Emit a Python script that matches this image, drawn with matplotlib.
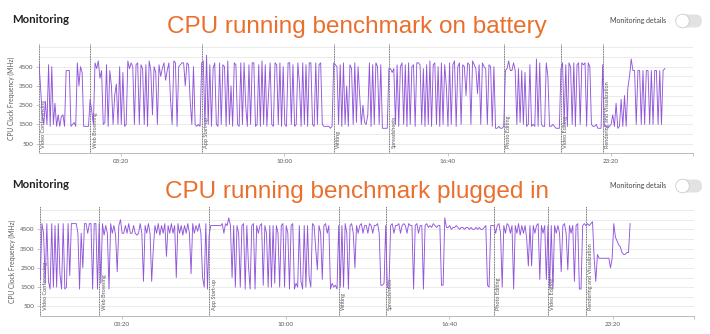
import numpy as np
import matplotlib
matplotlib.use('Agg')
import matplotlib.pyplot as plt
from matplotlib.patches import FancyBboxPatch, Circle

# benchmark phases, same order in both runs
phases = ['Video Conferencing', 'Web Browsing', 'App Start-up', 'Writing',
          'Spreadsheets', 'Photo Editing', 'Video Editing',
          'Rendering and Visualization']

# phase start times (s), last entry = end of recording
batt_bounds = [0, 125, 398, 721, 856, 1137, 1277, 1379, 1531]
plug_bounds = [0, 144, 413, 730, 845, 1110, 1242, 1335, 1443]

# CPU clock per phase, in 100 MHz units
batt_vc = [47, 34, 20, 15, 27, 15, 46, 14, 45, 15, 26, 14, 20, 14, 19, 20, 14, 43, 43, 43,
           14, 15, 16, 14, 47, 35, 45, 42, 14, 14, 14, 14]
batt_web = [28, 22, 15, 47, 44, 48, 39, 43, 15, 16, 46, 14, 43, 35, 15, 30, 36, 15, 45, 15,
            42, 14, 15, 48, 44, 47, 45, 15, 46, 47, 15, 46, 44, 15, 46, 14, 48, 43, 20, 45,
            42, 15, 46, 40, 44, 47, 38, 43, 47, 28, 15, 48, 47, 14, 45, 46, 47, 47, 35, 47,
            46, 27, 15, 45, 15, 14, 15, 14]
batt_app = [47, 48, 14, 51, 15, 46, 14, 44, 47, 15, 14, 47, 15, 46, 45, 14, 48, 15, 35, 14,
            47, 46, 15, 14, 47, 15, 47, 25, 14, 46, 15, 47, 47, 14, 15, 46, 14, 48, 15, 46,
            14, 30, 47, 15, 14, 47, 46, 15, 47, 14, 45, 15, 14, 47, 47, 15, 46, 14, 15, 47,
            36, 14, 47, 15, 46, 14, 47, 47, 15, 14, 47, 15, 46, 47, 15, 14, 14, 14, 14, 13, 14]
batt_write = [47, 46, 45, 15, 46, 14, 47, 15, 35, 14, 46, 44, 15, 47, 16, 45, 30, 15, 25, 16,
              15, 20, 47, 14, 46, 15, 47, 45, 15, 46, 13, 13, 13, 13]
batt_sheet = [44, 44, 42, 44, 15, 46, 14, 45, 47, 15, 46, 14, 47, 15, 45, 46, 14, 47, 47, 46,
              15, 44, 14, 46, 15, 48, 14, 46, 47, 15, 45, 14, 47, 15, 46, 35, 14, 47, 15, 46,
              48, 14, 45, 47, 15, 46, 45, 30, 47, 46, 15, 48, 46, 44, 31, 46, 15, 47, 45, 44,
              15, 46, 45, 14, 45, 13, 13, 14, 13, 13]
batt_photo = [14, 43, 44, 48, 43, 43, 47, 43, 15, 44, 16, 43, 15, 42, 14, 15, 46, 14, 15, 14,
              49, 14, 47, 15, 14, 14, 47, 40, 14, 14, 15, 14, 13, 13, 13]
batt_video = [44, 47, 15, 46, 14, 47, 45, 15, 47, 14, 46, 47, 15, 47, 46, 47, 14, 47, 45, 15,
              14, 14, 15, 13, 13, 13]
batt_render = [46, 14, 14, 13, 14, 15, 20, 14, 26, 13, 14, 28, 14, 30, 14, 34, 40, 49, 43, 43,
               15, 43, 43, 15, 43, 15, 43, 43, 15, 43, 15, 43, 43, 15, 43, 15, 43, 44]

plug_vc = [19, 48, 43, 17, 48, 18, 14, 48, 15, 47, 15, 48, 22, 14, 48, 14, 15, 48, 21, 48,
           48, 48, 48, 43, 14, 43, 25, 48, 48, 43, 48, 48, 14, 48, 48, 14]
plug_web = [48, 17, 48, 42, 47, 43, 14, 48, 43, 47, 42, 23, 47, 50, 43, 43, 47, 43, 48, 43,
            43, 47, 43, 42, 43, 48, 43, 18, 47, 43, 48, 43, 18, 35, 47, 43, 48, 42, 47, 43,
            48, 31, 47, 43, 48, 43, 47, 20, 48, 43, 47, 42, 47, 43, 48, 43, 22, 48, 43, 47,
            44, 48, 43, 20, 15, 48, 14]
plug_app = [42, 47, 47, 47, 47, 47, 47, 47, 48, 43, 48, 47, 51, 47, 20, 47, 15, 47, 43, 15,
            47, 48, 14, 47, 26, 14, 47, 48, 14, 47, 43, 47, 48, 16, 47, 43, 15, 47, 15, 47,
            17, 47, 43, 15, 47, 48, 15, 47, 43, 14, 47, 48, 14, 17, 15, 47, 18, 14, 47, 15,
            47, 20, 15, 48, 47, 35, 24, 47, 43, 19, 47, 48, 43, 47, 14, 17, 15, 16, 14]
plug_write = [47, 15, 47, 15, 48, 43, 14, 47, 48, 43, 25, 47, 43, 47, 48, 43, 47, 47, 43, 48,
              47, 43, 47, 47, 48, 43, 16, 16, 17]
plug_sheet = [47, 15, 14, 47, 48, 43, 47, 47, 48, 43, 47, 48, 47, 43, 48, 47, 47, 14, 47, 48,
              43, 47, 47, 14, 47, 48, 46, 47, 46, 48, 47, 46, 47, 47, 16, 16, 51, 46, 46, 47,
              45, 46, 46, 47, 46, 45, 46, 46, 45, 46, 46, 45, 46, 45, 45, 46, 45, 46, 45, 45,
              46, 47, 16, 15, 47, 47]
plug_photo = [47, 43, 47, 48, 43, 15, 47, 43, 48, 47, 43, 47, 14, 47, 43, 48, 42, 47, 43, 47,
              40, 26, 47, 26, 47, 43, 47, 48, 19, 47, 43, 47, 19]
plug_video = [47, 15, 47, 14, 47, 43, 47, 43, 23, 47, 48, 43, 24, 47, 43, 47, 18, 47, 48, 14,
              14, 47, 48]
plug_render = [47, 48, 47, 48, 49, 30, 18, 32, 30, 30, 30, 30, 30, 30, 30, 25, 30, 48, 41, 39,
               37, 36, 33, 32, 32, 33, 33, 48]

batt_segs = [batt_vc, batt_web, batt_app, batt_write, batt_sheet, batt_photo, batt_video, batt_render]
plug_segs = [plug_vc, plug_web, plug_app, plug_write, plug_sheet, plug_photo, plug_video, plug_render]

xtick_pos = [200, 600, 1000, 1400]
xtick_lab = ['03:20', '10:00', '16:40', '23:20']
ytick_pos = [500, 1500, 2500, 3500, 4500]

LINE = '#9156DA'
ORANGE = '#EB6F2C'
GREY = '#5a5a5a'


def build(bounds, segs):
    t, f = [], []
    for i, s in enumerate(segs):
        last = (i == len(segs) - 1)
        t.append(np.linspace(bounds[i], bounds[i + 1], len(s), endpoint=last))
        f.append(np.array(s) * 100)
    return np.concatenate(t), np.concatenate(f)


def panel(ax, bounds, segs):
    t, f = build(bounds, segs)
    ax.set_xlim(0, 1600)
    ax.set_ylim(0, 5700)
    for y in range(500, 5600, 500):
        ax.axhline(y, color='#e8e8e8', lw=0.6, zorder=0)
    for b, name in zip(bounds[:-1], phases):
        ax.axvline(b, color='#555555', lw=0.6, ls=(0, (1.2, 0.8)), zorder=1)
        ax.text(b + 6, 300, name, rotation=90, fontsize=4, color=GREY,
                ha='left', va='bottom', family='Lato', zorder=1)
    ax.plot(t, f, color=LINE, lw=0.65, zorder=2)
    for s in ['top', 'right', 'left']:
        ax.spines[s].set_visible(False)
    ax.spines['bottom'].set_color('#b0b0b0')
    ax.spines['bottom'].set_linewidth(0.6)
    ax.set_xticks(xtick_pos + [1600])
    ax.set_xticklabels(xtick_lab + [''])
    ax.set_yticks(ytick_pos)
    ax.set_yticklabels([str(v) for v in ytick_pos])
    ax.tick_params(axis='both', labelsize=4.5, labelcolor=GREY, color='#b0b0b0',
                   length=2.5, width=0.5, pad=1.5)
    for lab in ax.get_xticklabels() + ax.get_yticklabels():
        lab.set_family('Lato')
    ax.set_ylabel('CPU Clock Frequency (MHz)', fontsize=4.8, color=GREY,
                  family='Lato', labelpad=3)


fig = plt.figure(figsize=(7.1, 3.34), dpi=100)

ax1 = fig.add_axes([39 / 710, 1 - 153.3 / 334, 654 / 710, 109.7 / 334])
panel(ax1, batt_bounds, batt_segs)
ax2 = fig.add_axes([40.3 / 710, 1 - 316 / 334, 654 / 710, 109.7 / 334])
panel(ax2, plug_bounds, plug_segs)

# header overlay in pixel coordinates
ov = fig.add_axes([0, 0, 1, 1])
ov.set_xlim(0, 710)
ov.set_ylim(334, 0)
ov.axis('off')

titles = ['CPU running benchmark on battery', 'CPU running benchmark plugged in']
for yb, title in zip([0, 165], titles):
    ov.text(12, yb + 23, 'Monitoring', fontsize=8.2, weight='bold', color='#222222',
            family='Lato', va='baseline')
    ov.text(357, yb + 33, title, fontsize=17.5, color=ORANGE, family='Liberation Sans',
            ha='center', va='baseline')
    ov.text(610, yb + 23, 'Monitoring details', fontsize=5, color='#444444',
            family='Lato', va='baseline')
    ov.add_patch(FancyBboxPatch((677, yb + 14.5), 25, 13,
                                boxstyle='round,pad=0,rounding_size=6.5',
                                fc='#e2e2e2', ec='none'))
    ov.add_patch(Circle((682.5, yb + 21), 6.8, fc='white', ec='#cccccc', lw=0.6))

fig.savefig('out.png', dpi=100)
